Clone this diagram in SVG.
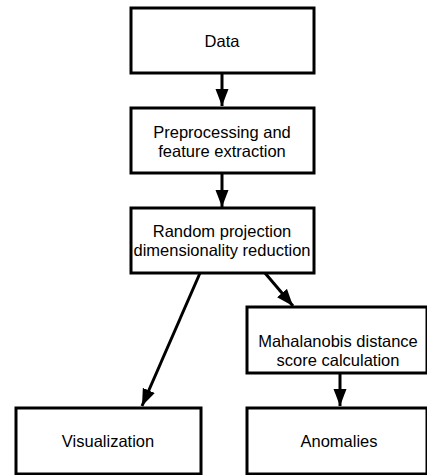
<svg xmlns="http://www.w3.org/2000/svg" width="427" height="475" viewBox="0 0 427 475">
<style>
.box{fill:#fff;stroke:#000;stroke-width:3}
.t{font-family:"Liberation Sans",Arial,sans-serif;font-size:16.5px;text-anchor:middle;fill:#000}
.c{stroke:#000;stroke-width:3;fill:none}
</style>
<defs>
<marker id="ah" markerUnits="userSpaceOnUse" markerWidth="18" markerHeight="14" refX="17" refY="7" orient="auto">
<path d="M0,0.5 L17,7 L0,13.5 Z" fill="#000"/>
</marker>
</defs>
<rect width="427" height="475" fill="#fff"/>
<g id="connectors">
<line class="c" x1="222" y1="73" x2="222" y2="106" marker-end="url(#ah)"/>
<line class="c" x1="222" y1="173" x2="222" y2="207" marker-end="url(#ah)"/>
<line class="c" x1="265" y1="273" x2="293" y2="306" marker-end="url(#ah)"/>
<line class="c" x1="200" y1="273" x2="142" y2="406" marker-end="url(#ah)"/>
<line class="c" x1="340" y1="373" x2="340" y2="406" marker-end="url(#ah)"/>
</g>
<g id="data">
<rect class="box" x="131" y="8" width="183" height="65"/>
<text class="t" x="222" y="47">Data</text>
</g>
<g id="preprocessing">
<rect class="box" x="131" y="108" width="183" height="65"/>
<text class="t" x="222" y="138">Preprocessing and</text>
<text class="t" x="222" y="157">feature extraction</text>
</g>
<g id="random-projection">
<rect class="box" x="131" y="208" width="183" height="65"/>
<text class="t" x="222" y="237">Random projection</text>
<text class="t" x="222" y="256">dimensionality reduction</text>
</g>
<g id="mahalanobis">
<rect class="box" x="247" y="307" width="180" height="66"/>
<text class="t" x="338" y="347">Mahalanobis distance</text>
<text class="t" x="338" y="366">score calculation</text>
</g>
<g id="visualization">
<rect class="box" x="16" y="408" width="185" height="66"/>
<text class="t" x="108" y="447">Visualization</text>
</g>
<g id="anomalies">
<rect class="box" x="247" y="408" width="180" height="66"/>
<text class="t" x="339" y="447">Anomalies</text>
</g>
</svg>
